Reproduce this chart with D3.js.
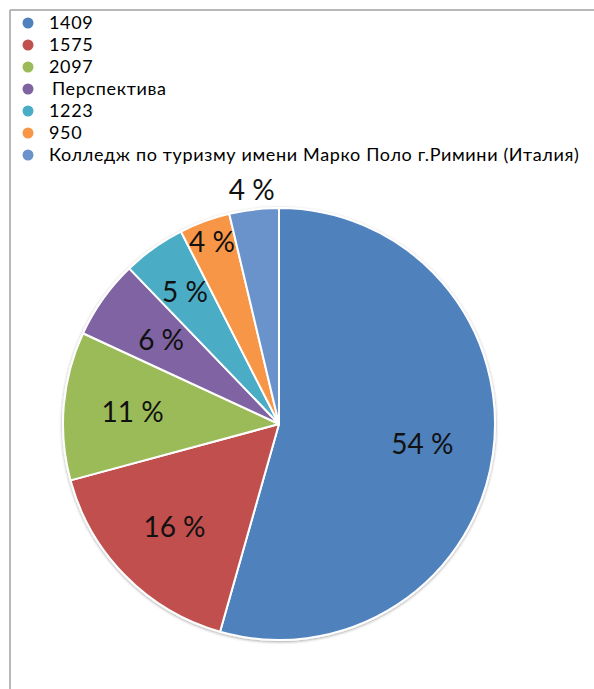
<!DOCTYPE html>
<html>
<head>
<meta charset="utf-8">
<script src="https://cdn.jsdelivr.net/npm/d3@7"></script>
<style>
  body { margin: 0; background: #fff; }
  text { font-family: Lato, "Open Sans", sans-serif; }
</style>
</head>
<body>
<div id="container"></div>
<script>
/**
 * DATA
 * */
const categories = ["1409", "1575", "2097", "Перспектива", "1223", "950",
  "Колледж по туризму имени Марко Поло г.Римини (Италия)"];
const shares = [54.4, 16.4, 11.1, 5.9, 4.7, 3.8, 3.7];
const shareLabels = ["54 %", "16 %", "11 %", "6 %", "5 %", "4 %", "4 %"];
const colors = ["#4F81BD", "#C0504D", "#9BBB59", "#8064A2", "#4BACC6", "#F79646", "#6A93CB"];

/**
 * CONSTANTS
 * */
const width = 594, height = 689;
const cx = 279, cy = 424, radius = 216;

const svg = d3.select("#container").append("svg")
  .attr("width", width)
  .attr("height", height);

// soft shadow like the office chart
const defs = svg.append("defs");
const f = defs.append("filter").attr("id", "shadow")
  .attr("x", "-10%").attr("y", "-10%").attr("width", "120%").attr("height", "120%");
f.append("feDropShadow").attr("dx", 0).attr("dy", 1).attr("stdDeviation", 1.5)
  .attr("flood-color", "#000").attr("flood-opacity", 0.35);

// frame lines (top + left)
svg.append("line").attr("x1", 10).attr("y1", 10).attr("x2", width).attr("y2", 10)
  .attr("stroke", "#a0a0a0").attr("stroke-width", 1.5);
svg.append("line").attr("x1", 10).attr("y1", 10).attr("x2", 10).attr("y2", height)
  .attr("stroke", "#a0a0a0").attr("stroke-width", 1.5);

// PIE
const pie = d3.pie().sort(null).value(d => d);
const arcs = pie(shares);
const arcGen = d3.arc().innerRadius(0).outerRadius(radius);

const g = svg.append("g").attr("transform", `translate(${cx},${cy})`);

g.append("g").attr("filter", "url(#shadow)")
  .selectAll("path")
  .data(arcs)
  .join("path")
  .attr("d", arcGen)
  .attr("fill", (d, i) => colors[i])
  .attr("stroke", "#fff")
  .attr("stroke-width", 2)
  .attr("stroke-linejoin", "round");

// label distance as a fraction of radius (small slices pushed out)
const labelFrac = [0.67, 0.68, 0.68, 0.67, 0.75, 0.9, 1.09];

g.selectAll("text.lbl")
  .data(arcs)
  .join("text")
  .attr("class", "lbl")
  .attr("transform", (d, i) => {
    const a = (d.startAngle + d.endAngle) / 2;
    const r = radius * labelFrac[i];
    return `translate(${r * Math.sin(a)},${-r * Math.cos(a)})`;
  })
  .attr("text-anchor", "middle")
  .attr("dy", "0.36em")
  .attr("font-size", 28)
  .attr("fill", "#111")
  .text((d, i) => shareLabels[i]);

// LEGEND
const legend = svg.append("g");
const rowY = d3.scalePoint().domain(d3.range(categories.length)).range([23, 155]);

const rows = legend.selectAll("g")
  .data(categories)
  .join("g")
  .attr("transform", (d, i) => `translate(0,${rowY(i)})`);

rows.append("circle")
  .attr("cx", 28).attr("r", 5.5)
  .attr("fill", (d, i) => colors[i]);

rows.append("text")
  .attr("x", (d, i) => i === 3 ? 52 : 49)
  .attr("dy", "0.35em")
  .attr("font-size", 18)
  .attr("letter-spacing", 0.65)
  .attr("fill", "#000")
  .text(d => d);
</script>
</body>
</html>
